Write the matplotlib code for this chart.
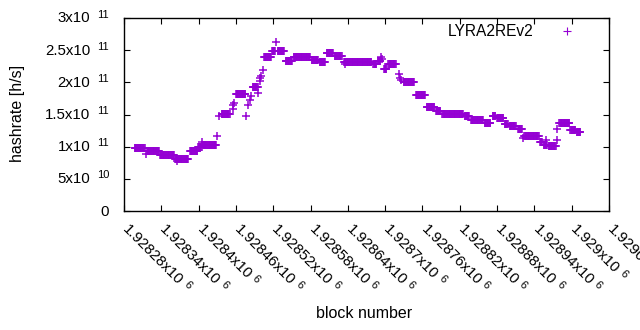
import numpy as np
import matplotlib
matplotlib.use("Agg")
import matplotlib.pyplot as plt
from matplotlib.font_manager import FontProperties

plt.rcParams['font.family'] = ['Liberation Sans', 'DejaVu Sans']

# hashrate plateaus: first block, last block, hashrate [h/s]
seg_start = [1928297, 1928316, 1928317, 1928338, 1928362, 1928366, 1928386, 1928399,
             1928406, 1928407, 1928430, 1928433, 1928437, 1928455, 1928456, 1928457,
             1928460, 1928477, 1928480, 1928483, 1928485, 1928487, 1928496, 1928498,
             1928499, 1928500, 1928503, 1928505, 1928518, 1928524, 1928527, 1928540,
             1928553, 1928582, 1928595, 1928606, 1928619, 1928634, 1928635, 1928681,
             1928688, 1928694, 1928695, 1928698, 1928705, 1928722, 1928724, 1928725,
             1928730, 1928750, 1928767, 1928782, 1928792, 1928828, 1928838, 1928860,
             1928873, 1928880, 1928892, 1928900, 1928914, 1928921, 1928924, 1928949,
             1928955, 1928959, 1928963, 1928976, 1928977, 1928980, 1928998, 1929008]
seg_end = [1928313, 1928316, 1928336, 1928360, 1928383, 1928366, 1928398, 1928405,
           1928406, 1928428, 1928430, 1928433, 1928450, 1928455, 1928456, 1928457,
           1928475, 1928477, 1928480, 1928483, 1928485, 1928495, 1928496, 1928498,
           1928499, 1928500, 1928503, 1928516, 1928523, 1928524, 1928537, 1928550,
           1928579, 1928592, 1928603, 1928616, 1928630, 1928678, 1928635, 1928686,
           1928692, 1928694, 1928695, 1928702, 1928717, 1928722, 1928724, 1928725,
           1928746, 1928764, 1928779, 1928789, 1928825, 1928835, 1928857, 1928869,
           1928877, 1928890, 1928897, 1928910, 1928920, 1928921, 1928947, 1928952,
           1928960, 1928959, 1928974, 1928976, 1928977, 1928996, 1929006, 1929014]
seg_rate = [0.98e11, 0.89e11, 0.93e11, 0.865e11, 0.81e11, 0.77e11, 0.93e11, 1.00e11,
            1.08e11, 1.03e11, 1.17e11, 1.47e11, 1.51e11, 1.59e11, 1.64e11, 1.68e11,
            1.82e11, 1.47e11, 1.64e11, 1.73e11, 1.79e11, 1.92e11, 1.83e11, 2.02e11,
            2.06e11, 2.10e11, 2.19e11, 2.39e11, 2.49e11, 2.62e11, 2.48e11, 2.33e11,
            2.39e11, 2.34e11, 2.32e11, 2.46e11, 2.41e11, 2.32e11, 2.28e11, 2.28e11,
            2.33e11, 2.40e11, 2.36e11, 2.20e11, 2.28e11, 2.13e11, 2.07e11, 2.03e11,
            2.00e11, 1.81e11, 1.62e11, 1.55e11, 1.515e11, 1.47e11, 1.42e11, 1.37e11,
            1.47e11, 1.45e11, 1.36e11, 1.32e11, 1.27e11, 1.14e11, 1.16e11, 1.08e11,
            1.03e11, 1.11e11, 1.01e11, 1.11e11, 1.27e11, 1.37e11, 1.26e11, 1.23e11]

# tick labels in gnuplot style: mantissa part + exponent
xtick_vals = [1928280, 1928340, 1928400, 1928460, 1928520, 1928580, 1928640,
              1928700, 1928760, 1928820, 1928880, 1928940, 1929000, 1929060]
xtick_main = ["1.92828x10", "1.92834x10", "1.9284x10", "1.92846x10", "1.92852x10",
              "1.92858x10", "1.92864x10", "1.9287x10", "1.92876x10", "1.92882x10",
              "1.92888x10", "1.92894x10", "1.929x10", "1.92906x10"]
xtick_exp = ["6"] * 14
ytick_vals = [0, 5e10, 1e11, 1.5e11, 2e11, 2.5e11, 3e11]
ytick_main = ["0", "5x10", "1x10", "1.5x10", "2x10", "2.5x10", "3x10"]
ytick_exp = ["", "10", "11", "11", "11", "11", "11"]

blocks = []
rates = []
for s, e, r in zip(seg_start, seg_end, seg_rate):
    b = np.arange(s, e + 1)
    blocks.append(b)
    rates.append(np.full(len(b), r))
blocks = np.concatenate(blocks)
rates = np.concatenate(rates)

tick_fs = 10.8
exp_fs = 8.0

fig = plt.figure(figsize=(6.4, 3.3), dpi=100)
ax = fig.add_axes([124/640, 1 - 211/330, (609 - 124)/640, (211 - 18)/330])

ax.plot(blocks, rates, linestyle='none', marker='+', ms=6.3, mew=1.1,
        color='#9400D3', label='LYRA2REv2')

ax.set_xlim(1928280, 1929060)
ax.set_ylim(0, 3e11)
ax.set_xticks(xtick_vals)
ax.set_xticklabels([])
ax.set_yticks(ytick_vals)
ax.set_yticklabels([])
ax.tick_params(direction='in', length=4, width=0.8, top=True, right=True,
               colors='black')
for sp in ax.spines.values():
    sp.set_linewidth(1.0)

# y tick labels
for v, m, e in zip(ytick_vals, ytick_main, ytick_exp):
    if e:
        ax.annotate(m, xy=(0, v), xycoords=('axes fraction', 'data'),
                    xytext=(-33.5, -4.5), textcoords='offset pixels',
                    ha='right', va='baseline', fontsize=tick_fs)
        ax.annotate(e, xy=(0, v), xycoords=('axes fraction', 'data'),
                    xytext=(-15, 0.5), textcoords='offset pixels',
                    ha='right', va='baseline', fontsize=exp_fs)
    else:
        ax.annotate(m, xy=(0, v), xycoords=('axes fraction', 'data'),
                    xytext=(-15, -4.5), textcoords='offset pixels',
                    ha='right', va='baseline', fontsize=tick_fs)

# x tick labels, rotated by -45 degrees
renderer = fig.canvas.get_renderer()
fp = FontProperties(family='Liberation Sans', size=tick_fs)
c = np.cos(np.pi / 4)
ax0, ay0 = -2.0, -19.0
gap, rise = 3.5, 4.0
for v, m, e in zip(xtick_vals, xtick_main, xtick_exp):
    w, h, d = renderer.get_text_width_height_descent(m, fp, ismath=False)
    ax.annotate(m, xy=(v, 0), xycoords=('data', 'axes fraction'),
                xytext=(ax0, ay0), textcoords='offset pixels',
                ha='left', va='baseline', rotation=-45, rotation_mode='anchor',
                fontsize=tick_fs, annotation_clip=False)
    ex = ax0 + (w + gap) * c + rise * c
    ey = ay0 - (w + gap) * c + rise * c
    ax.annotate(e, xy=(v, 0), xycoords=('data', 'axes fraction'),
                xytext=(ex, ey), textcoords='offset pixels',
                ha='left', va='baseline', rotation=-45, rotation_mode='anchor',
                fontsize=exp_fs, annotation_clip=False)

ax.set_xlabel('block number', fontsize=11.5)
ax.set_ylabel('hashrate [h/s]', fontsize=11.5)
ax.xaxis.set_label_coords(0.495, -0.492)
ax.yaxis.set_label_coords(-0.204, 0.505)

leg = ax.legend(loc='center right', bbox_to_anchor=(0.9592, 0.928), frameon=False,
                markerfirst=False, fontsize=11.2, handlelength=2.0,
                handletextpad=1.2, borderaxespad=0.0, borderpad=0.4)
leg.legend_handles[0].set_markersize(6)
leg.legend_handles[0].set_markeredgewidth(0.8)

fig.savefig('out.png', dpi=100)
